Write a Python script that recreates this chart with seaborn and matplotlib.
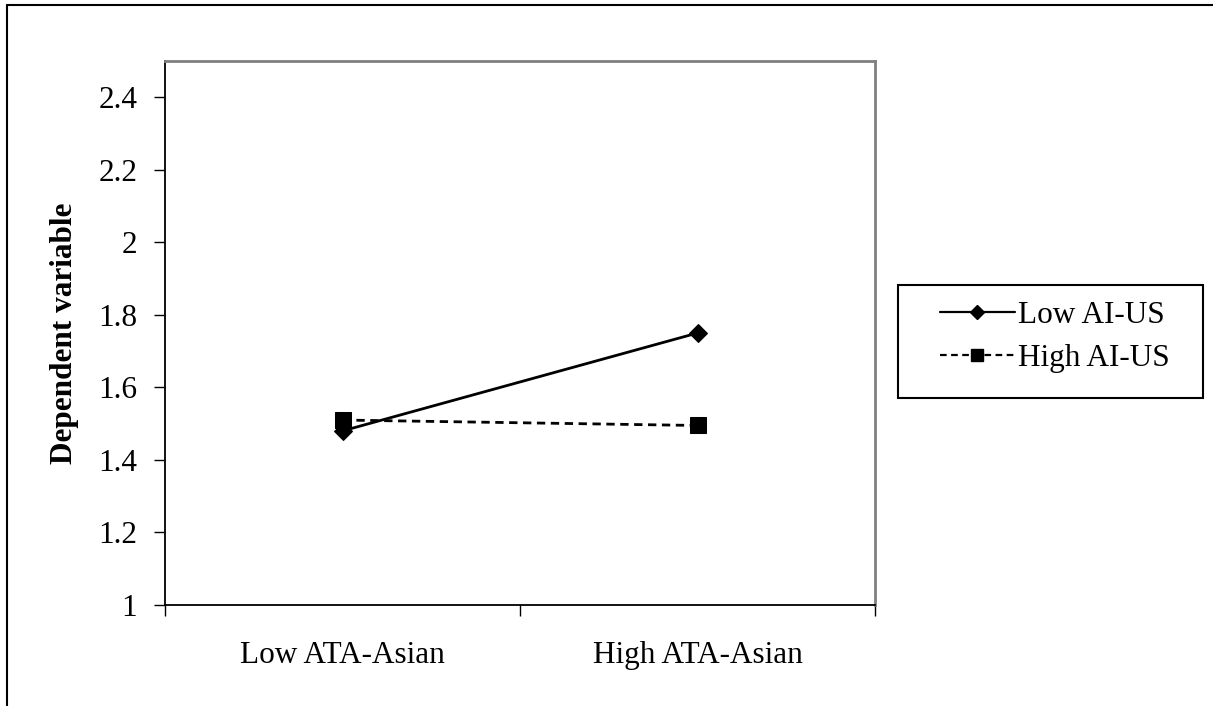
import seaborn as sns
import pandas as pd
import numpy as np
import matplotlib.pyplot as plt
from matplotlib.lines import Line2D
from matplotlib.patches import Rectangle

# data
conditions = ["Low ATA-Asian", "High ATA-Asian"]
low_ai_us = [1.48, 1.75]
high_ai_us = [1.51, 1.495]
groups = ["Low AI-US", "High AI-US"]
y_ticks = [1, 1.2, 1.4, 1.6, 1.8, 2, 2.2, 2.4]
y_tick_labels = ["1", "1.2", "1.4", "1.6", "1.8", "2", "2.2", "2.4"]

df = pd.DataFrame({
    "condition": conditions * 2,
    "value": low_ai_us + high_ai_us,
    "group": [groups[0]] * 2 + [groups[1]] * 2,
})

sns.set_style("white")
plt.rcParams['font.family'] = ['Liberation Serif', 'DejaVu Serif']
fs = 22.5

fig = plt.figure(figsize=(12.13, 7.06), dpi=100)
ax = fig.add_axes([165 / 1213, 1 - 605 / 706, 710 / 1213, 544 / 706])

sns.lineplot(data=df, x="condition", y="value", hue="group", style="group",
             palette=["black", "black"], dashes=[(None, None), (3, 2)],
             markers=["D", "s"], markersize=9, linewidth=2,
             markeredgecolor="black", ax=ax, legend=False)
ax.lines[1].set_markersize(11)

ax.set_xlim(-0.5, 1.5)
ax.set_ylim(1, 2.5)
ax.set_yticks(y_ticks)
ax.set_yticklabels(y_tick_labels)
ax.set_xticks([0, 1])
ax.set_xticklabels(conditions)
ax.set_xticks([-0.5, 0.5, 1.5], minor=True)
ax.tick_params(axis="x", which="major", length=0, pad=26, labelsize=fs, colors="black")
ax.tick_params(axis="x", which="minor", bottom=True, length=8, width=1, direction="out", color="black")
ax.tick_params(axis="y", left=True, length=8, width=1, direction="out", color="black", pad=12,
               labelsize=fs, labelcolor="black")
ax.set_xlabel("")
ax.set_ylabel("Dependent variable", fontsize=fs, fontweight="bold", labelpad=14, color="black")

for side in ["left", "bottom"]:
    ax.spines[side].set_color("black")
    ax.spines[side].set_linewidth(1.3)
for side in ["top", "right"]:
    ax.spines[side].set_color("#808080")
    ax.spines[side].set_linewidth(2)

handles = [
    Line2D([], [], color="black", linestyle="-", linewidth=1.6, marker="D", markersize=7),
    Line2D([], [], color="black", linestyle=(0, (3, 2)), linewidth=1.6, marker="s", markersize=9),
]
leg = fig.legend(handles, groups, loc="center left",
                 bbox_to_anchor=(940 / 1213, 1 - 337 / 706), borderaxespad=0,
                 frameon=False, handlelength=2.4, handletextpad=0.1,
                 borderpad=0, labelspacing=0.45, fontsize=fs, numpoints=1)
for t in leg.get_texts():
    t.set_color("black")

# legend box
fig.add_artist(Rectangle((898 / 1213, 1 - 398 / 706), 305 / 1213, 113 / 706,
                         transform=fig.transFigure, fill=False, edgecolor="black", linewidth=1.5))

# outer chart frame (top and left edges visible)
fig.add_artist(Line2D([7 / 1213, 7 / 1213], [0, 1 - 5 / 706], color="black", linewidth=1.5))
fig.add_artist(Line2D([7 / 1213, 1], [1 - 5 / 706, 1 - 5 / 706], color="black", linewidth=1.5))

plt.savefig("out.png", dpi=100)
